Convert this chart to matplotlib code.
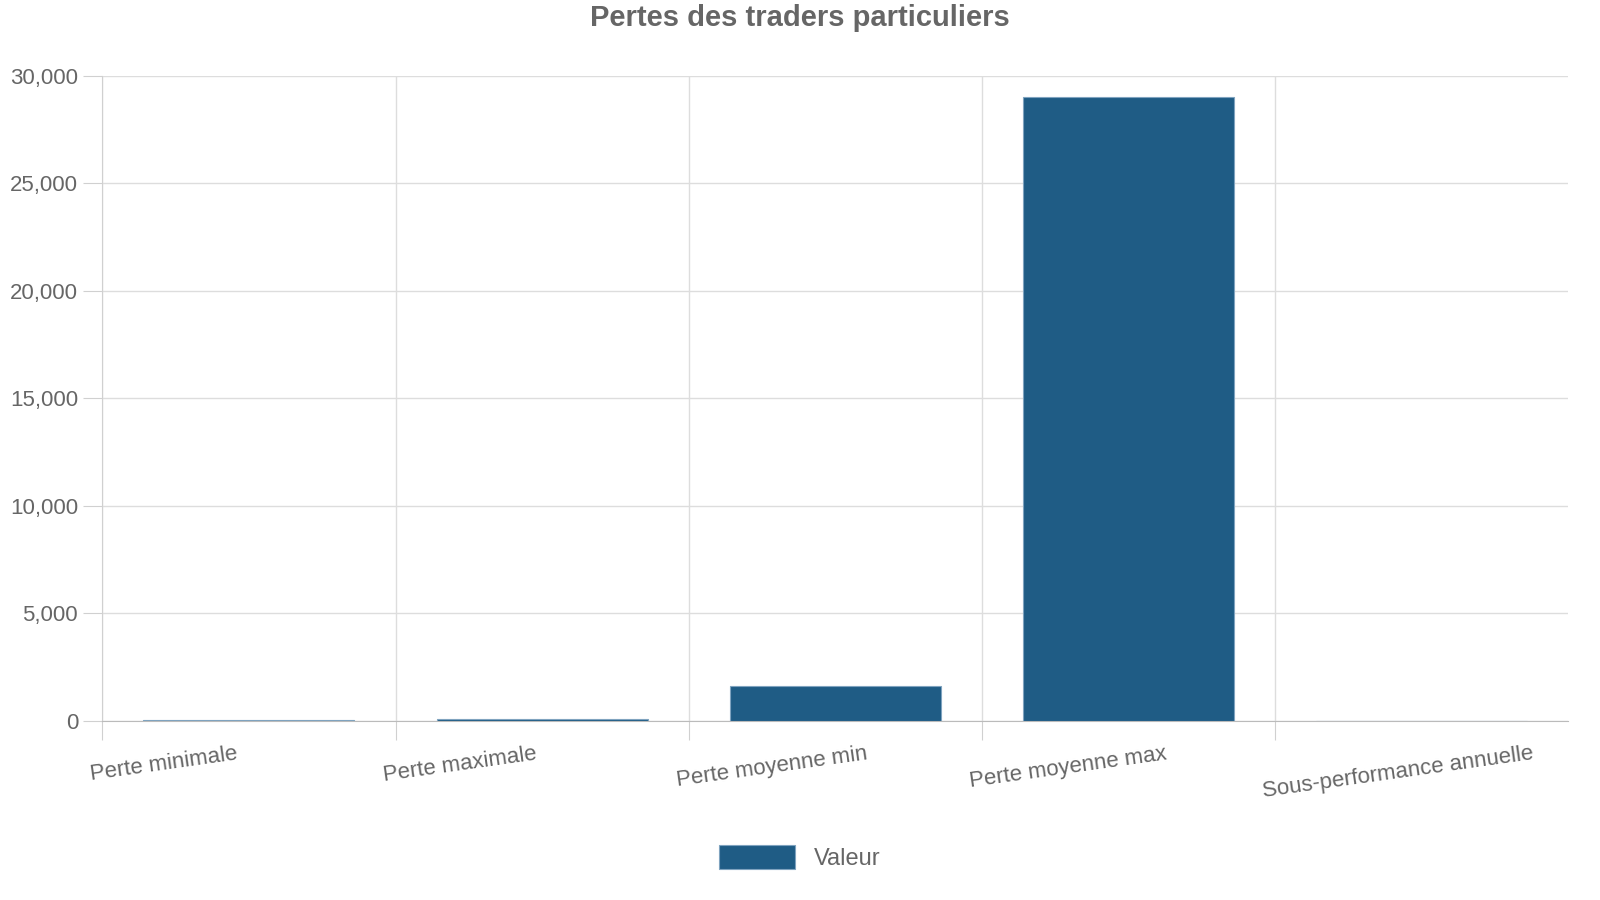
import matplotlib.pyplot as plt
from matplotlib.ticker import FuncFormatter

categories = ["Perte minimale", "Perte maximale", "Perte moyenne min",
              "Perte moyenne max", "Sous-performance annuelle"]
valeurs = [50, 100, 1600, 29000, 10]

plt.rcParams['font.family'] = ['Liberation Sans', 'DejaVu Sans']
fig = plt.figure(figsize=(16, 9), dpi=100)
ax = fig.add_axes([0.064, 0.199, 0.916, 0.717])

x = range(len(categories))
ax.bar([i + 0.5 for i in x], valeurs, width=0.72, color='#1f5c85',
       edgecolor='#7fa3bf', linewidth=0.8, label='Valeur', zorder=3)

ax.set_xlim(0, len(categories))
ax.set_ylim(0, 30000)
ax.set_yticks(range(0, 30001, 5000))
ax.yaxis.set_major_formatter(FuncFormatter(lambda v, p: f"{int(v):,}"))
ax.set_xticks(list(x))
ax.set_xticklabels(categories, rotation=8, ha='left', fontsize=16, color='#666666')
for lab in ax.get_xticklabels():
    lab.set_x(0)
ax.tick_params(axis='x', length=14, color='#d0d0d0', pad=2)
ax.tick_params(axis='y', length=14, color='#d0d0d0', labelsize=16, labelcolor='#666666')
ax.grid(True, color='#dddddd', linewidth=1, zorder=0)
for s in ['top', 'right']:
    ax.spines[s].set_visible(False)
ax.spines['left'].set_color('#d0d0d0')
ax.spines['bottom'].set_color('#bbbbbb')

# décaler les libellés pour qu'ils commencent avant le tick
import matplotlib.transforms as mtransforms
off = mtransforms.ScaledTranslation(-0.14, 0, fig.dpi_scale_trans)
for lab in ax.get_xticklabels():
    lab.set_transform(lab.get_transform() + off)

fig.suptitle("Pertes des traders particuliers", y=0.995, fontsize=21,
             fontweight='bold', color='#666666')
fig.legend(loc='lower center', bbox_to_anchor=(0.5, 0.01), frameon=False,
           fontsize=17, labelcolor='#666666', handlelength=3.2, handleheight=1.2)

fig.savefig("out.png")
